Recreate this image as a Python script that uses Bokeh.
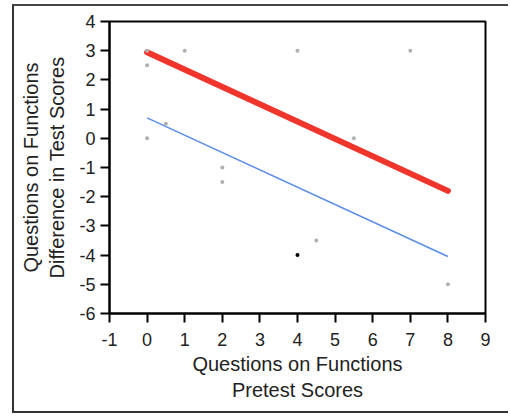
from bokeh.plotting import figure
from bokeh.models import Range1d, FixedTicker
from bokeh.embed import file_html
from bokeh.resources import INLINE

# Scatter data (gray points)
pre_x = [0, 0, 0, 0.5, 1, 2, 2, 4, 4.5, 5.5, 7, 8]
diff_y = [3, 2.5, 0, 0.5, 3, -1, -1.5, 3, -3.5, 0, 3, -5]
# highlighted point
hi_x = [4]
hi_y = [-4]
# fitted lines
red_x = [0, 8]
red_y = [2.95, -1.8]
blue_x = [0, 8]
blue_y = [0.7, -4.05]

x_ticks = [-1, 0, 1, 2, 3, 4, 5, 6, 7, 8, 9]
y_ticks = [-6, -5, -4, -3, -2, -1, 0, 1, 2, 3, 4]

FONT = "Liberation Sans"

p = figure(width=496, height=409, output_backend="svg", toolbar_location=None,
           x_range=Range1d(-1, 9), y_range=Range1d(-6, 4),
           min_border_left=95, min_border_top=15, min_border_right=25, min_border_bottom=102)
p.margin = (4, 0, 0, 12)
p.styles = {"border-top": "2px solid #444", "border-left": "2px solid #333",
            "border-bottom": "2px solid #333", "border-right": "none"}

p.xgrid.visible = False
p.ygrid.visible = False
p.outline_line_color = "black"
p.outline_line_width = 2
p.outline_line_alpha = 1

p.xaxis.ticker = FixedTicker(ticks=x_ticks)
p.yaxis.ticker = FixedTicker(ticks=y_ticks)
p.xaxis.major_label_overrides = {t: str(t) for t in x_ticks}
p.yaxis.major_label_overrides = {t: str(t) for t in y_ticks}
for ax in (p.xaxis, p.yaxis):
    ax.axis_line_width = 2
    ax.axis_line_color = "black"
    ax.major_tick_line_width = 2
    ax.major_tick_line_color = "black"
    ax.major_tick_out = 9
    ax.major_tick_in = 0
    ax.minor_tick_line_color = None
    ax.major_label_text_font = FONT
    ax.major_label_text_font_size = "18px"
    ax.major_label_text_color = "#222222"
    ax.axis_label_text_font = FONT
    ax.axis_label_text_font_size = "20px"
    ax.axis_label_text_font_style = "normal"
    ax.axis_label_text_color = "#222222"

p.xaxis.axis_label = "Questions on Functions\nPretest Scores"
p.yaxis.axis_label = "Questions on Functions\nDifference in Test Scores"
p.xaxis.major_label_standoff = 10
p.xaxis.axis_label_standoff = 4
p.yaxis.major_label_standoff = 5
p.yaxis.axis_label_standoff = 8

p.line(blue_x, blue_y, line_color="#5a8ee6", line_width=1.6)
p.line(red_x, red_y, line_color="#f0362c", line_width=6, line_cap="round")
p.scatter(pre_x, diff_y, size=4, fill_color="#b0b0b0", line_color=None)
p.scatter(hi_x, hi_y, size=4, fill_color="black", line_color=None)

open("out.html", "w").write(file_html(p, INLINE))
